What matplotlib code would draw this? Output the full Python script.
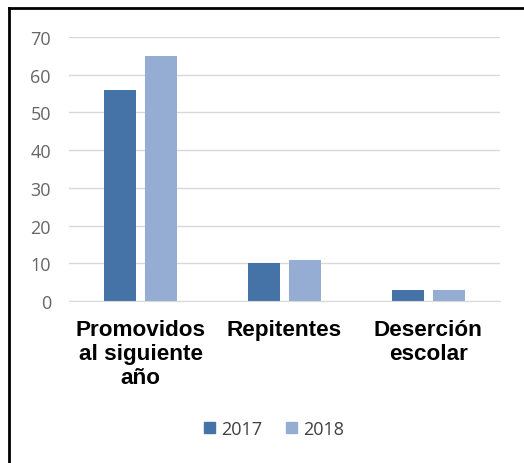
import matplotlib
matplotlib.use("Agg")
import matplotlib.pyplot as plt
from matplotlib.lines import Line2D
from matplotlib.patches import Patch
import numpy as np

categories = ["Promovidos\nal siguiente\naño", "Repitentes", "Deserción\nescolar"]
years = ["2017", "2018"]
values_2017 = [56, 10, 3]
values_2018 = [65, 11, 3]
colors = ["#4572A7", "#95ACD3"]
yticks = [0, 10, 20, 30, 40, 50, 60, 70]

W, H = 524, 464
fig = plt.figure(figsize=(W / 100, H / 100), dpi=100)
ax = fig.add_axes([69 / W, 1 - 302 / H, (500 - 69) / W, (302 - 38) / H])

x = np.arange(len(categories))
bw = 0.223
off = 0.143
ax.bar(x - off, values_2017, bw, color=colors[0], zorder=2)
ax.bar(x + off, values_2018, bw, color=colors[1], zorder=2)

ax.set_xlim(-0.5, 2.5)
ax.set_ylim(0, 70)
ax.set_yticks(yticks)
ax.set_yticklabels([str(t) for t in yticks], fontfamily="Open Sans", fontsize=13, color="#666666")
ax.yaxis.grid(True, color="#d9d9d9", linewidth=1, zorder=0)
ax.set_xticks(x)
ax.set_xticklabels(categories, fontfamily="Liberation Sans", fontweight="bold", fontsize=16.2,
                   color="#000000", linespacing=1.2)
ax.tick_params(axis="both", length=0)
ax.tick_params(axis="y", pad=13)
ax.tick_params(axis="x", pad=13)
for s in ["top", "right", "left"]:
    ax.spines[s].set_visible(False)
ax.spines["bottom"].set_color("#d9d9d9")

handles = [Patch(color=c, label=y) for c, y in zip(colors, years)]
leg = fig.legend(handles=handles, loc="center", bbox_to_anchor=(274 / W, 1 - 430 / H), ncol=2,
                 frameon=False, prop={"family": "Open Sans", "size": 13},
                 handlelength=0.6, handleheight=0.6, handletextpad=0.35, columnspacing=1.3)
for t in leg.get_texts():
    t.set_color("#404040")

# frame lines on top and left
fig.add_artist(Line2D([8.5 / W, 1], [1 - 9 / H, 1 - 9 / H], color="black", linewidth=2))
fig.add_artist(Line2D([8.5 / W, 8.5 / W], [0, 1 - 9 / H], color="black", linewidth=2))

fig.savefig("out.png", dpi=100)
